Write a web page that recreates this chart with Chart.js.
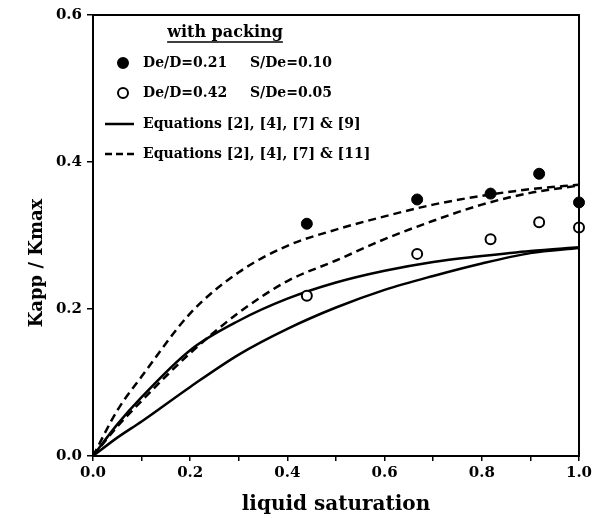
<!DOCTYPE html>
<html>
<head>
<meta charset="utf-8">
<script src="https://cdn.jsdelivr.net/npm/chart.js@4.4.1/dist/chart.umd.min.js"></script>
<style>
  html, body { margin: 0; padding: 0; background: #fff; }
  #wrap { width: 599px; height: 518px; }
</style>
</head>
<body>
<div id="wrap"><canvas id="kappChart" width="599" height="518"></canvas></div>
<script>
// liquid saturation grid for the model curves
const satGrid = [0, 0.05, 0.1, 0.2, 0.3, 0.4, 0.5, 0.6, 0.7, 0.8, 0.9, 1.0];
// Equations [2], [4], [7] & [9] (solid), two packings
const eq9Upper = [0, 0.043, 0.080, 0.144, 0.184, 0.214, 0.236, 0.252, 0.264, 0.272, 0.279, 0.284];
const eq9Lower = [0, 0.025, 0.047, 0.094, 0.138, 0.173, 0.202, 0.226, 0.245, 0.262, 0.276, 0.283];
// Equations [2], [4], [7] & [11] (dashed)
const eq11Upper = [0, 0.062, 0.108, 0.194, 0.250, 0.286, 0.308, 0.326, 0.342, 0.354, 0.363, 0.369];
const eq11Lower = [0, 0.040, 0.075, 0.140, 0.195, 0.238, 0.266, 0.295, 0.320, 0.342, 0.358, 0.368];

// measured points
const measuredSat = [0.44, 0.667, 0.818, 0.918, 1.0];
const kappFilled = [0.316, 0.349, 0.357, 0.384, 0.345];   // De/D=0.21 S/De=0.10
const kappOpen = [0.218, 0.275, 0.295, 0.318, 0.311];     // De/D=0.42 S/De=0.05

const yTitle = 'Kapp / Kmax';
const legendTitle = 'with packing';
const legendRows = [
    ['De/D=0.21', 'S/De=0.10'],
    ['De/D=0.42', 'S/De=0.05'],
    ['Equations [2], [4], [7] & [9]'],
    ['Equations [2], [4], [7] & [11]']
];

const serif = '"DejaVu Serif", "Liberation Serif", serif';

function pts(xs, ys) {
    return xs.map((x, i) => ({ x: x, y: ys[i] }));
}

function curve(ys, dashed) {
    return {
        data: pts(satGrid, ys),
        showLine: true,
        borderColor: '#000',
        borderWidth: 2.5,
        borderDash: dashed ? [8, 5] : [],
        pointRadius: 0,
        cubicInterpolationMode: 'monotone',
        order: 2
    };
}

// box round the plot, y title and the legend inside the plot area
const framePlugin = {
    id: 'frame',
    afterDraw(chart) {
        const ctx = chart.ctx;
        const a = chart.chartArea;
        ctx.save();
        ctx.strokeStyle = '#000';
        ctx.lineWidth = 2;
        ctx.strokeRect(a.left, a.top, a.right - a.left, a.bottom - a.top);

        ctx.fillStyle = '#000';
        ctx.textBaseline = 'middle';

        // y axis title (sits a little below the middle in the original)
        ctx.save();
        ctx.translate(37, 263);
        ctx.rotate(-Math.PI / 2);
        ctx.font = 'bold 18px ' + serif;
        ctx.textAlign = 'center';
        ctx.fillText(yTitle, 0, 0);
        ctx.restore();

        // legend title
        ctx.font = 'bold 16px ' + serif;
        ctx.textAlign = 'center';
        ctx.fillText(legendTitle, 225, 33);
        const tw = ctx.measureText(legendTitle).width;
        ctx.lineWidth = 1.5;
        ctx.beginPath();
        ctx.moveTo(225 - tw / 2, 42);
        ctx.lineTo(225 + tw / 2, 42);
        ctx.stroke();

        ctx.font = 'bold 14px ' + serif;
        ctx.textAlign = 'left';
        const rowY = [63, 93, 124, 154];
        legendRows.forEach((row, i) => {
            const y = rowY[i];
            if (i < 2) {
                ctx.beginPath();
                ctx.arc(123, y, 5, 0, Math.PI * 2);
                ctx.fillStyle = i === 0 ? '#000' : '#fff';
                ctx.fill();
                ctx.lineWidth = 2;
                ctx.stroke();
                ctx.fillStyle = '#000';
                ctx.fillText(row[0], 143, y);
                ctx.fillText(row[1], 250, y);
            } else {
                ctx.lineWidth = 2.5;
                ctx.setLineDash(i === 2 ? [] : [7, 4]);
                ctx.beginPath();
                ctx.moveTo(105, y);
                ctx.lineTo(134, y);
                ctx.stroke();
                ctx.setLineDash([]);
                ctx.fillText(row[0], 143, y);
            }
        });
        ctx.restore();
    }
};

const ctx = document.getElementById('kappChart').getContext('2d');
const kappChart = new Chart(ctx, {
    type: 'scatter',
    data: {
        datasets: [
            {
                data: pts(measuredSat, kappFilled),
                pointRadius: 5.5,
                pointBackgroundColor: '#000',
                pointBorderColor: '#000',
                pointBorderWidth: 1,
                clip: false,
                order: 0
            },
            {
                data: pts(measuredSat, kappOpen),
                pointRadius: 5,
                pointBackgroundColor: '#fff',
                pointBorderColor: '#000',
                pointBorderWidth: 2,
                clip: false,
                order: 0
            },
            curve(eq9Upper, false),
            curve(eq9Lower, false),
            curve(eq11Upper, true),
            curve(eq11Lower, true)
        ]
    },
    options: {
        responsive: false,
        animation: false,
        layout: { padding: { left: 0, right: 20, top: 15, bottom: 0 } },
        plugins: { legend: { display: false }, tooltip: { enabled: false } },
        scales: {
            x: {
                type: 'linear',
                min: 0,
                max: 1,
                afterFit: s => { s.height = 62; },
                border: { display: true, color: '#000', width: 2 },
                grid: { display: true, drawOnChartArea: false, drawTicks: true, tickLength: 5, color: '#000', lineWidth: 1.5 },
                ticks: {
                    stepSize: 0.1,
                    padding: 3,
                    color: '#000',
                    font: { family: serif, size: 15, weight: 'bold' },
                    maxRotation: 0,
                    autoSkip: false,
                    callback: v => (Math.round(v * 10) % 2 === 0 ? v.toFixed(1) : '')
                },
                title: {
                    display: true,
                    text: 'liquid saturation',
                    color: '#000',
                    font: { family: serif, size: 20, weight: 'bold' },
                    padding: { top: 0, bottom: 1 }
                }
            },
            y: {
                min: 0,
                max: 0.6,
                afterFit: s => { s.width = 93; },
                border: { display: true, color: '#000', width: 2 },
                grid: { display: true, drawOnChartArea: false, drawTicks: true, tickLength: 6, color: '#000', lineWidth: 1.5 },
                ticks: {
                    stepSize: 0.2,
                    padding: 5,
                    color: '#000',
                    font: { family: serif, size: 15, weight: 'bold' },
                    callback: v => v.toFixed(1)
                },
                title: { display: false }
            }
        }
    },
    plugins: [framePlugin]
});
</script>
</body>
</html>
